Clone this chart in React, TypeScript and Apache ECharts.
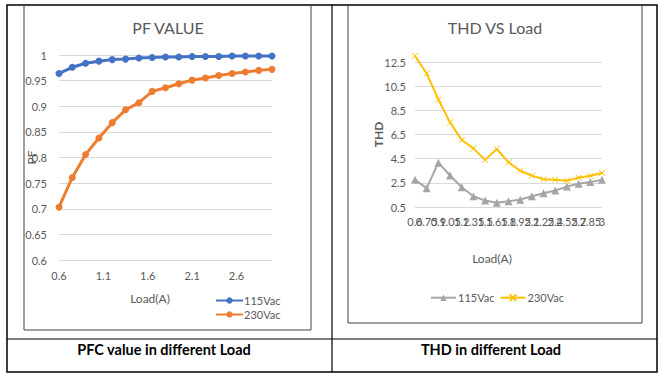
import React, { useEffect, useRef } from 'react';
import * as echarts from 'echarts';

const loadA = [0.6, 0.75, 0.9, 1.05, 1.2, 1.35, 1.5, 1.65, 1.8, 1.95, 2.1, 2.25, 2.4, 2.55, 2.7, 2.85, 3];
const loadLabels = ['0.6', '0.75', '0.9', '1.05', '1.2', '1.35', '1.5', '1.65', '1.8', '1.95', '2.1', '2.25', '2.4', '2.55', '2.7', '2.85', '3'];

const pf115 = [0.964, 0.976, 0.984, 0.988, 0.991, 0.992, 0.994, 0.995, 0.996, 0.996, 0.997, 0.997, 0.997, 0.998, 0.998, 0.998, 0.998];
const pf230 = [0.703, 0.761, 0.806, 0.838, 0.868, 0.893, 0.907, 0.929, 0.936, 0.944, 0.951, 0.955, 0.96, 0.964, 0.967, 0.97, 0.972];

const thd115 = [2.75, 2.06, 4.17, 3.11, 2.14, 1.39, 1.03, 0.86, 0.97, 1.11, 1.39, 1.64, 1.86, 2.19, 2.42, 2.56, 2.75];
const thd230 = [13.0, 11.55, 9.4, 7.5, 6.05, 5.35, 4.4, 5.3, 4.2, 3.5, 3.1, 2.8, 2.75, 2.67, 2.93, 3.08, 3.32];

const F = 'Lato, "Open Sans", sans-serif';
const GREY = '#595959';

export default function App() {
  const ref = useRef<HTMLDivElement>(null);
  useEffect(() => {
    const chart = echarts.init(ref.current as HTMLDivElement, null, { renderer: 'svg' });
    const lbl = { color: GREY, fontSize: 11, fontFamily: F };
    const stripName = (n: string) => n.replace(/^(PF|THD) /, '');
    chart.setOption({
      animation: false,
      backgroundColor: '#ffffff',
      grid: [
        { left: 59, top: 55, width: 213, height: 205 },
        { left: 415, top: 62, width: 187, height: 145 },
      ],
      xAxis: [
        {
          gridIndex: 0, type: 'value', min: 0.6, max: 3, interval: 0.5,
          axisLine: { show: false }, axisTick: { show: false }, splitLine: { show: false },
          axisLabel: { ...lbl, showMaxLabel: false, margin: 10, formatter: (v: number) => String(Math.round(v * 10) / 10) },
        },
        {
          gridIndex: 1, type: 'category', data: loadLabels, boundaryGap: false,
          axisLine: { show: false }, axisTick: { show: false },
          axisLabel: { ...lbl, interval: 0, margin: 9, hideOverlap: false },
        },
      ],
      yAxis: [
        {
          gridIndex: 0, type: 'value', min: 0.6, max: 1, interval: 0.05,
          name: 'PF', nameLocation: 'middle', nameGap: 22, nameRotate: 90, nameMoveOverlap: false,
          nameTextStyle: { color: GREY, fontSize: 12, fontFamily: F },
          axisLine: { show: false }, axisTick: { show: false },
          axisLabel: { ...lbl, margin: 12, formatter: (v: number) => String(+v.toFixed(2)) },
          splitLine: { lineStyle: { color: '#D9D9D9', width: 1 } },
        },
        {
          gridIndex: 1, type: 'value', min: 0.5, max: 12.5, interval: 2,
          name: 'THD', nameLocation: 'middle', nameGap: 31, nameRotate: 90, nameMoveOverlap: false,
          nameTextStyle: { color: GREY, fontSize: 12, fontFamily: F, fontWeight: 'bold' },
          axisLine: { show: false }, axisTick: { show: false },
          axisLabel: { ...lbl, margin: 9, formatter: (v: number) => String(+v.toFixed(1)) },
          splitLine: { lineStyle: { color: '#D9D9D9', width: 1 } },
        },
      ],
      legend: [
        {
          data: ['PF 115Vac', 'PF 230Vac'], orient: 'vertical', left: 210, top: 290,
          itemWidth: 27, itemHeight: 8, itemGap: 3, formatter: stripName,
          textStyle: { ...lbl, padding: [0, 0, 0, -4] }, selectedMode: false,
        },
        {
          data: ['THD 115Vac', 'THD 230Vac'], orient: 'horizontal', left: 425, top: 287,
          itemWidth: 25, itemHeight: 8, itemGap: 5, formatter: stripName,
          textStyle: { ...lbl, padding: [0, 0, 0, -3] }, selectedMode: false,
        },
      ],
      series: [
        {
          name: 'PF 115Vac', type: 'line', xAxisIndex: 0, yAxisIndex: 0,
          data: loadA.map((x, i) => [x, pf115[i]]),
          symbol: 'circle', symbolSize: 7,
          lineStyle: { width: 3, color: '#4472C4' }, itemStyle: { color: '#4472C4' },
        },
        {
          name: 'PF 230Vac', type: 'line', xAxisIndex: 0, yAxisIndex: 0,
          data: loadA.map((x, i) => [x, pf230[i]]),
          symbol: 'circle', symbolSize: 7,
          lineStyle: { width: 3, color: '#ED7D31' }, itemStyle: { color: '#ED7D31' },
        },
        {
          name: 'THD 115Vac', type: 'line', xAxisIndex: 1, yAxisIndex: 1,
          data: thd115, symbol: 'triangle', symbolSize: 8, clip: false,
          lineStyle: { width: 2, color: '#A5A5A5' }, itemStyle: { color: '#A5A5A5' },
        },
        {
          name: 'THD 230Vac', type: 'line', xAxisIndex: 1, yAxisIndex: 1,
          data: thd230, symbol: 'path://M0,0L10,10M0,10L10,0', symbolSize: 6, clip: false,
          lineStyle: { width: 2, color: '#FFC000' },
          itemStyle: { color: 'none', borderColor: '#FFC000', borderWidth: 1 },
        },
      ],
      graphic: [
        { type: 'rect', shape: { x: 7, y: 5, width: 650, height: 367 }, style: { fill: 'none', stroke: '#000', lineWidth: 1.5 }, silent: true },
        { type: 'line', shape: { x1: 332, y1: 5, x2: 332, y2: 372 }, style: { stroke: '#000', lineWidth: 1.2 }, silent: true },
        { type: 'line', shape: { x1: 7, y1: 339, x2: 657, y2: 339 }, style: { stroke: '#000', lineWidth: 1.2 }, silent: true },
        { type: 'rect', shape: { x: 24, y: 5, width: 287, height: 325 }, style: { fill: 'none', stroke: '#404040', lineWidth: 1 }, silent: true },
        { type: 'rect', shape: { x: 348, y: 5, width: 294, height: 318 }, style: { fill: 'none', stroke: '#404040', lineWidth: 1 }, silent: true },
        { type: 'text', style: { text: 'PF VALUE', x: 168, y: 27, textAlign: 'center', textVerticalAlign: 'middle', fill: GREY, fontSize: 16, fontFamily: F } },
        { type: 'text', style: { text: 'THD VS Load', x: 495, y: 27, textAlign: 'center', textVerticalAlign: 'middle', fill: GREY, fontSize: 16, fontFamily: F } },
        { type: 'text', style: { text: 'Load(A)', x: 150, y: 298, textAlign: 'center', textVerticalAlign: 'middle', fill: GREY, fontSize: 12, fontFamily: F } },
        { type: 'text', style: { text: 'Load(A)', x: 492, y: 258, textAlign: 'center', textVerticalAlign: 'middle', fill: GREY, fontSize: 12, fontFamily: F } },
        { type: 'text', style: { text: 'PFC value in different Load', x: 164, y: 349, textAlign: 'center', textVerticalAlign: 'middle', fill: '#000', fontSize: 14.5, fontWeight: 'bold', fontFamily: F } },
        { type: 'text', style: { text: 'THD in different Load', x: 491, y: 349, textAlign: 'center', textVerticalAlign: 'middle', fill: '#000', fontSize: 14.5, fontWeight: 'bold', fontFamily: F } },
      ],
    });
    return () => chart.dispose();
  }, []);
  return (
    <div
      ref={ref}
      style={{ position: 'fixed', left: 0, top: 0, width: 666, height: 376, background: '#fff' }}
    />
  );
}
